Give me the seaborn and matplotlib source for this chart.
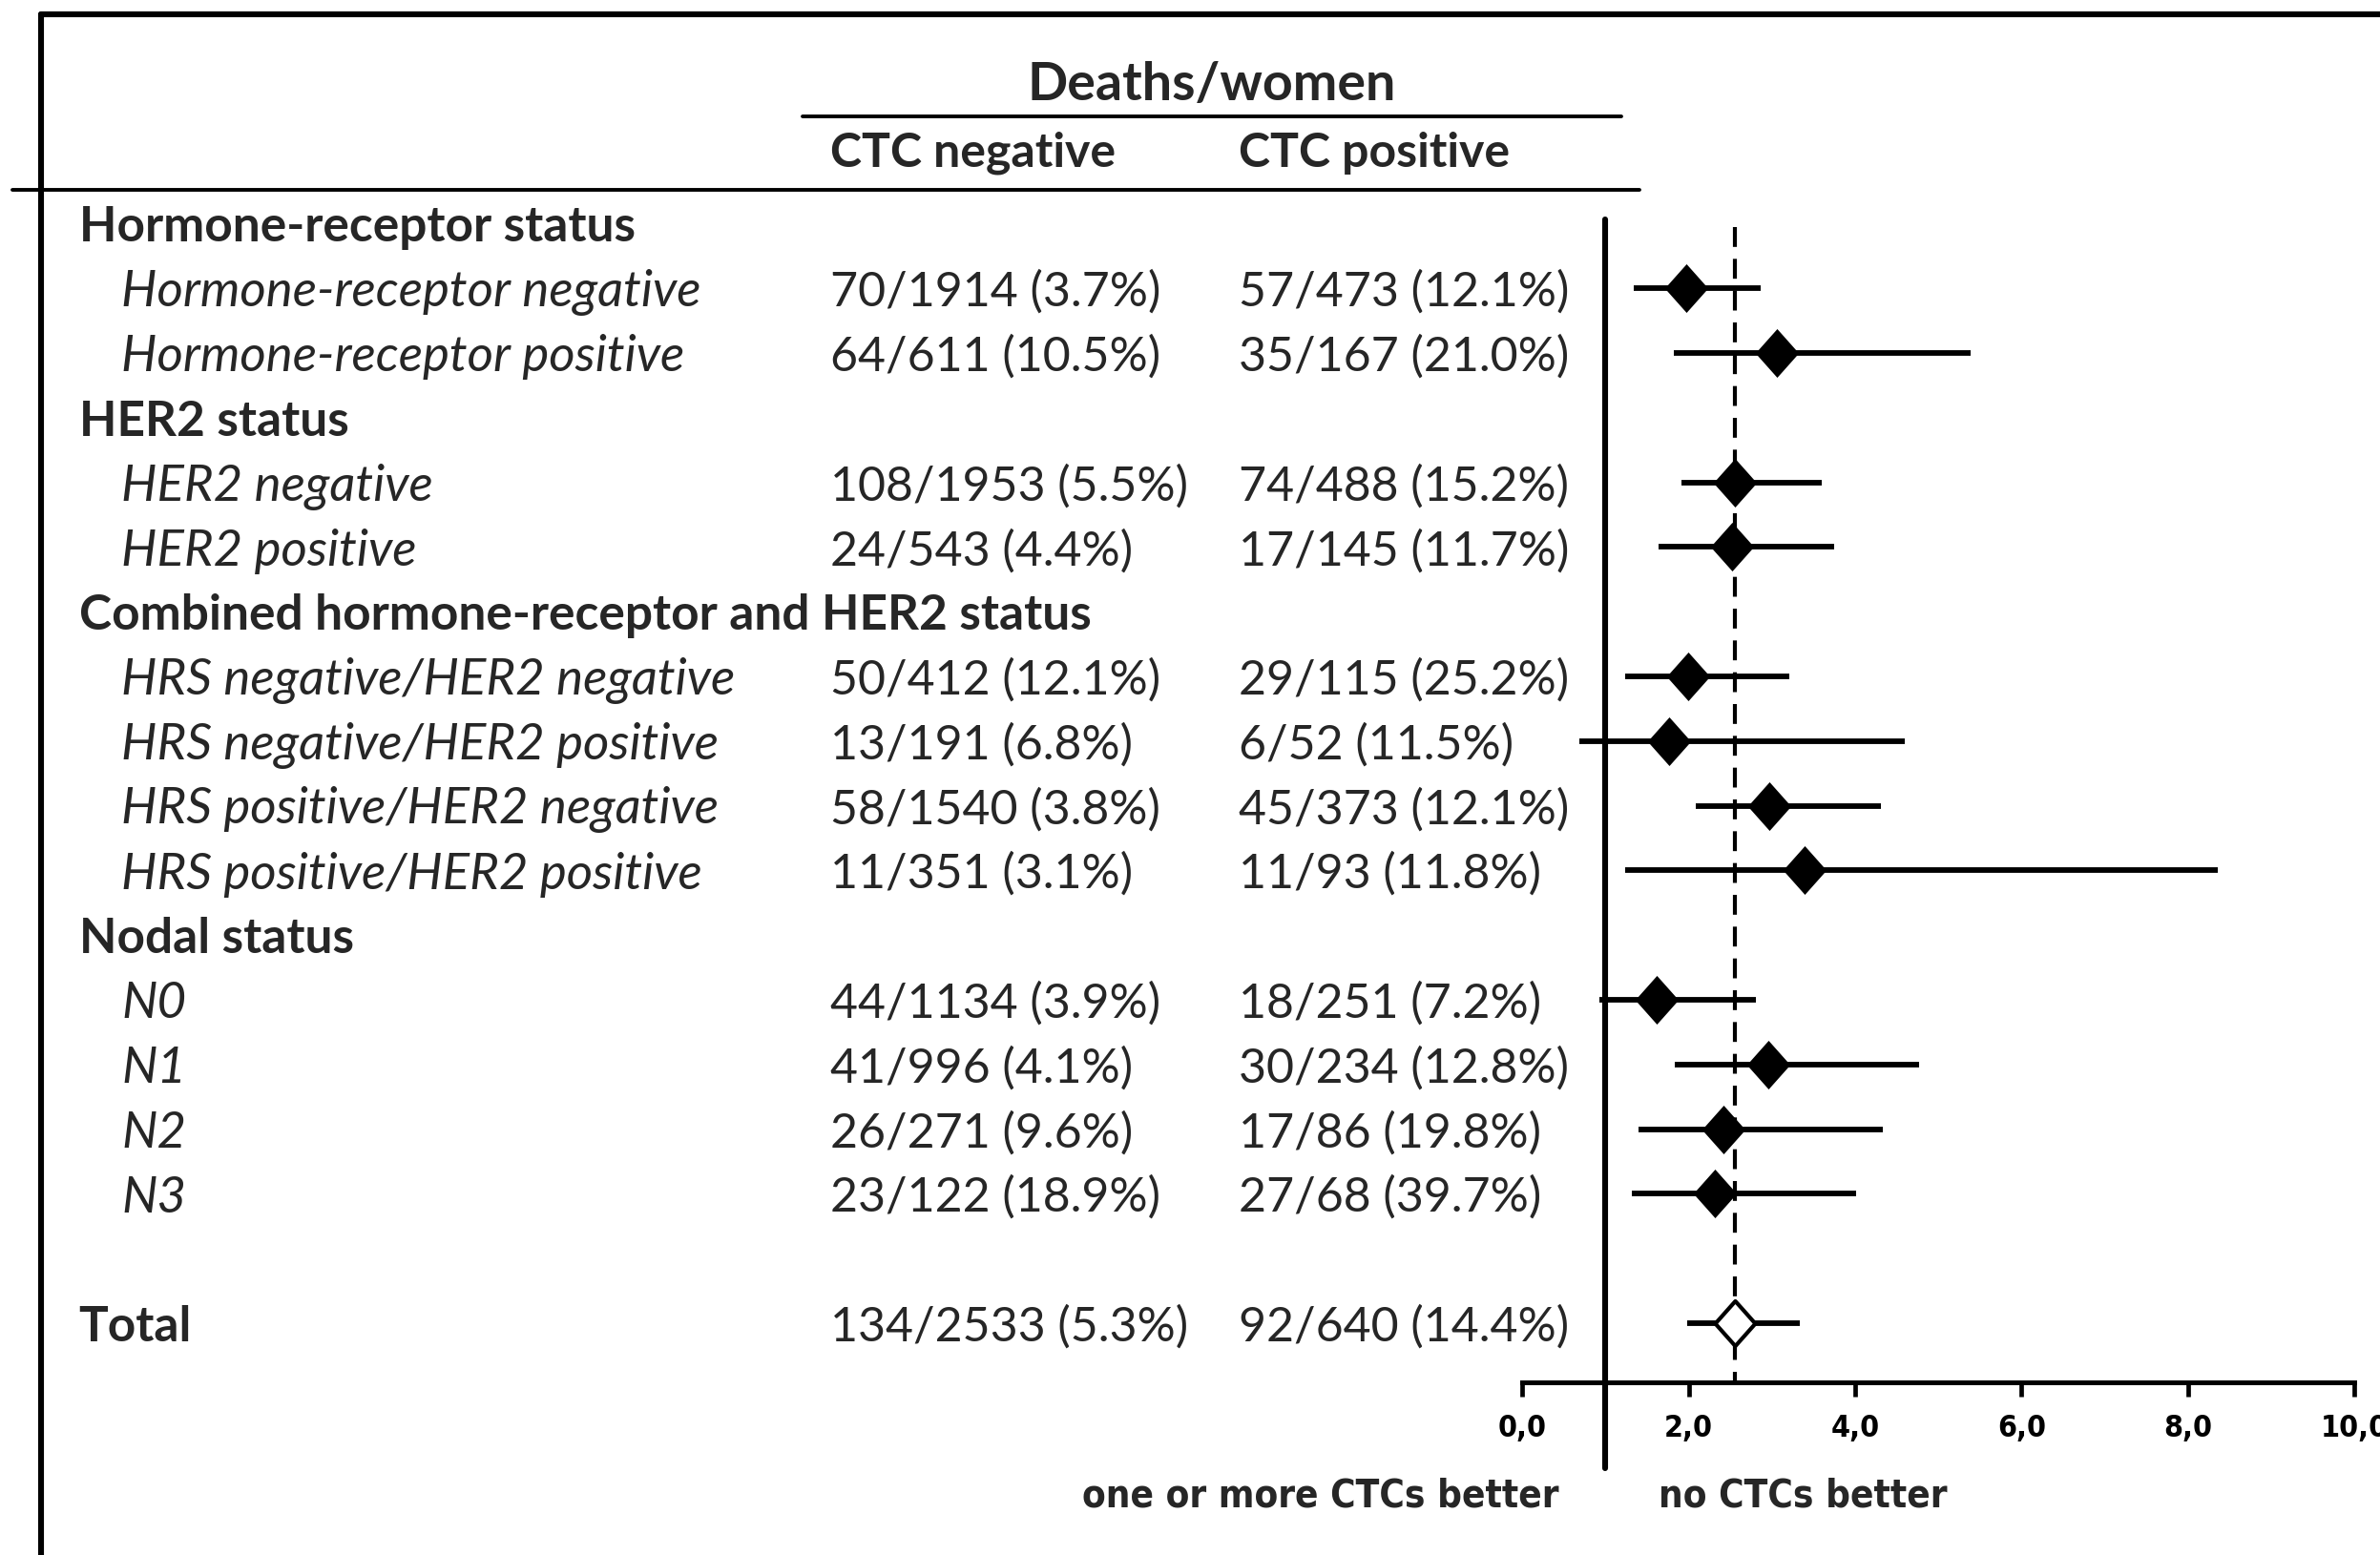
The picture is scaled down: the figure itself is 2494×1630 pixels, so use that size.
import numpy as np
import pandas as pd
import seaborn as sns
import matplotlib.pyplot as plt
import matplotlib.transforms as mtransforms
from matplotlib.lines import Line2D
from matplotlib.path import Path

# rows of the table (headings in bold, subgroups in italics)
row_labels = ["Hormone-receptor status", "Hormone-receptor negative", "Hormone-receptor positive",
              "HER2 status", "HER2 negative", "HER2 positive",
              "Combined hormone-receptor and HER2 status",
              "HRS negative/HER2 negative", "HRS negative/HER2 positive",
              "HRS positive/HER2 negative", "HRS positive/HER2 positive",
              "Nodal status", "N0", "N1", "N2", "N3", "", "Total"]
is_heading = [1, 0, 0, 1, 0, 0, 1, 0, 0, 0, 0, 1, 0, 0, 0, 0, 0, 1]
ctc_neg = ["", "70/1914 (3.7%)", "64/611 (10.5%)", "", "108/1953 (5.5%)", "24/543 (4.4%)",
           "", "50/412 (12.1%)", "13/191 (6.8%)", "58/1540 (3.8%)", "11/351 (3.1%)",
           "", "44/1134 (3.9%)", "41/996 (4.1%)", "26/271 (9.6%)", "23/122 (18.9%)", "",
           "134/2533 (5.3%)"]
ctc_pos = ["", "57/473 (12.1%)", "35/167 (21.0%)", "", "74/488 (15.2%)", "17/145 (11.7%)",
           "", "29/115 (25.2%)", "6/52 (11.5%)", "45/373 (12.1%)", "11/93 (11.8%)",
           "", "18/251 (7.2%)", "30/234 (12.8%)", "17/86 (19.8%)", "27/68 (39.7%)", "",
           "92/640 (14.4%)"]
# hazard ratios with 95% CI
hr = [None, 1.97, 3.06, None, 2.56, 2.52, None, 1.99, 1.76, 2.97, 3.39,
      None, 1.61, 2.96, 2.42, 2.31, None, 2.56]
ci_low = [None, 1.34, 1.82, None, 1.91, 1.64, None, 1.24, 0.69, 2.08, 1.23,
          None, 0.93, 1.83, 1.40, 1.32, None, 1.98]
ci_high = [None, 2.86, 5.39, None, 3.60, 3.75, None, 3.21, 4.60, 4.31, 8.36,
           None, 2.81, 4.77, 4.33, 4.01, None, 3.33]
overall_hr = 2.55
x_ticks = [0, 2, 4, 6, 8, 10]

df = pd.DataFrame({"label": row_labels, "heading": is_heading, "neg": ctc_neg,
                   "pos": ctc_pos, "hr": hr, "lo": ci_low, "hi": ci_high})
df["row"] = np.arange(len(df))
df["total"] = df["label"] == "Total"

sns.set_style("white")
plt.rcParams["font.family"] = ["Lato", "DejaVu Sans"]
narrow = dict(fontfamily=["DejaVu Sans"], fontstretch="condensed", fontweight="bold")

fig = plt.figure(figsize=(24.94, 16.31), dpi=100)


def fx(x):
    return x / 1568


def fy(y):
    return 1 - y / 1025


# forest plot axes
ax = fig.add_axes([fx(1003), fy(911), fx(1551) - fx(1003), fy(126.7) - fy(911)])
ax.set_xlim(0, 10)
ax.set_ylim(17.91, -0.5)
for s in ["left", "right", "top"]:
    ax.spines[s].set_visible(False)
ax.spines["bottom"].set_linewidth(3.6)
ax.spines["bottom"].set_color("black")
ax.set_yticks([])
ax.set_xticks(x_ticks)
ax.tick_params(axis="x", direction="out", length=11, width=3.4, labelsize=23, pad=12,
               bottom=True, colors="black")
ax.set_xticklabels([("%.1f" % t).replace(".", ",") for t in x_ticks], **narrow)

# reference lines
ax.plot([1, 1], [-0.07, 19.25], color="black", lw=4.4, clip_on=False, zorder=2)
ax.plot([overall_hr, overall_hr], [0.05, 17.91], color="black", lw=3.0,
        dashes=(5, 3), zorder=1)

est = df.dropna(subset=["hr"])
ax.hlines(est["row"], est["lo"], est["hi"], color="black", lw=4.2, zorder=3)
diamond = Path([(0, 1), (0.89, 0), (0, -1), (-0.89, 0), (0, 1)],
               [Path.MOVETO, Path.LINETO, Path.LINETO, Path.LINETO, Path.CLOSEPOLY])
sns.scatterplot(data=est[~est["total"]], x="hr", y="row", marker=diamond, s=1350,
                color="black", edgecolor="black", linewidth=0, ax=ax, legend=False, zorder=4)
sns.scatterplot(data=est[est["total"]], x="hr", y="row", marker=diamond, s=1150,
                facecolor="white", edgecolor="black", linewidth=3.0, ax=ax, legend=False,
                zorder=4)
ax.set_xlabel("")
ax.set_ylabel("")

# table text
blend = mtransforms.blended_transform_factory(fig.transFigure, ax.transData)
fs = 36
off = 0.05
for _, r in df.iterrows():
    y = r["row"] + off
    if r["heading"]:
        ax.text(fx(52), y, r["label"], transform=blend, fontsize=37,
                fontweight="bold", va="center", ha="left")
    else:
        ax.text(fx(80), y, r["label"], transform=blend, fontsize=38,
                fontstyle="italic", va="center", ha="left")
    ax.text(fx(547), y, r["neg"], transform=blend, fontsize=fs, va="center")
    ax.text(fx(816), y, r["pos"], transform=blend, fontsize=fs, va="center")

fig.text(fx(798), fy(56), "Deaths/women", fontsize=40, fontweight="bold",
         ha="center", va="center")
fig.text(fx(547), fy(101), "CTC negative", fontsize=fs, fontweight="bold", va="center")
fig.text(fx(816), fy(101), "CTC positive", fontsize=fs, fontweight="bold", va="center")
fig.add_artist(Line2D([fx(529), fx(1068)], [fy(77), fy(77)], color="black", lw=2.8))
fig.add_artist(Line2D([fx(8), fx(1080)], [fy(126), fy(126)], color="black", lw=2.8))

fig.text(fx(1027), fy(986), "one or more CTCs better", fontsize=29,
         ha="right", va="center", **narrow)
fig.text(fx(1093), fy(986), "no CTCs better", fontsize=29,
         ha="left", va="center", **narrow)

# frame around the figure
fig.add_artist(Line2D([fx(27), fx(27)], [fy(10), 0], color="black", lw=4.4))
fig.add_artist(Line2D([fx(27), 1], [fy(10), fy(10)], color="black", lw=4.4))

fig.savefig("out.png", dpi=100)
